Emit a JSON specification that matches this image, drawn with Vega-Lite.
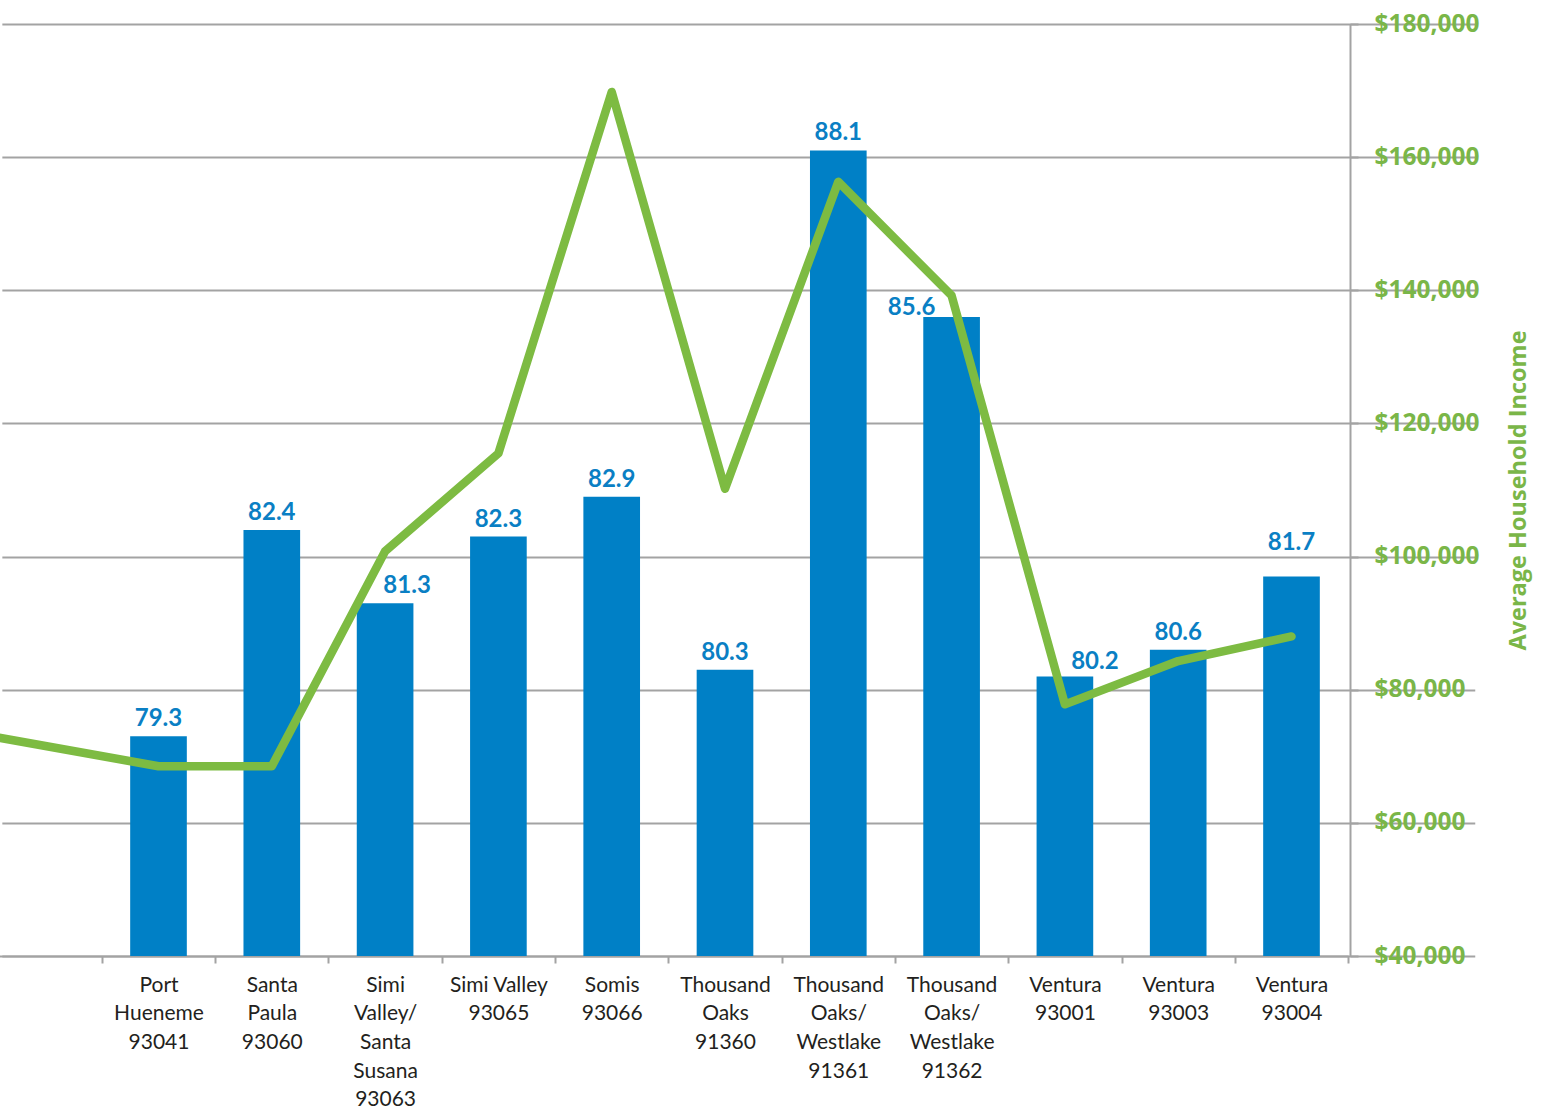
{
  "$schema": "https://vega.github.io/schema/vega-lite/v6.json",
  "width": 1350,
  "height": 932,
  "autosize": {"type": "none"},
  "padding": {"left": 0, "top": 24, "right": 200, "bottom": 153},
  "background": "white",
  "config": {"view": {"stroke": null}},
  "data": {
    "values": [
      {"area": "(cut off)", "life": null, "income": 74600},
      {"area": "Port\nHueneme\n93041", "life": 79.3, "income": 68500},
      {"area": "Santa\nPaula\n93060", "life": 82.4, "income": 68500},
      {"area": "Simi\nValley/\nSanta\nSusana\n93063", "life": 81.3, "income": 100800},
      {"area": "Simi Valley\n93065", "life": 82.3, "income": 115500},
      {"area": "Somis\n93066", "life": 82.9, "income": 169800},
      {"area": "Thousand\nOaks\n91360", "life": 80.3, "income": 110200},
      {"area": "Thousand\nOaks/\nWestlake\n91361", "life": 88.1, "income": 156300},
      {"area": "Thousand\nOaks/\nWestlake\n91362", "life": 85.6, "income": 139200},
      {"area": "Ventura\n93001", "life": 80.2, "income": 77800},
      {"area": "Ventura\n93003", "life": 80.6, "income": 84300},
      {"area": "Ventura\n93004", "life": 81.7, "income": 88000}
    ]
  },
  "encoding": {
    "x": {
      "field": "area",
      "type": "nominal",
      "sort": null,
      "scale": {
        "domain": ["(cut off)", "(gap)", "Port\nHueneme\n93041", "Santa\nPaula\n93060", "Simi\nValley/\nSanta\nSusana\n93063", "Simi Valley\n93065", "Somis\n93066", "Thousand\nOaks\n91360", "Thousand\nOaks/\nWestlake\n91361", "Thousand\nOaks/\nWestlake\n91362", "Ventura\n93001", "Ventura\n93003", "Ventura\n93004"],
        "range": [-124.75, 1348.15],
        "paddingInner": 0,
        "paddingOuter": 0
      },
      "axis": {
        "title": null,
        "values": ["Port\nHueneme\n93041", "Santa\nPaula\n93060", "Simi\nValley/\nSanta\nSusana\n93063", "Simi Valley\n93065", "Somis\n93066", "Thousand\nOaks\n91360", "Thousand\nOaks/\nWestlake\n91361", "Thousand\nOaks/\nWestlake\n91362", "Ventura\n93001", "Ventura\n93003", "Ventura\n93004"],
        "labelExpr": "split(datum.label, '\\n')",
        "tickBand": "extent",
        "labelAngle": 0,
        "labelFont": "Lato",
        "labelFontSize": 21,
        "labelColor": "#231f20",
        "labelLineHeight": 28.7,
        "labelPadding": 11,
        "labelLimit": 300,
        "domainColor": "#a3a3a3",
        "domainWidth": 2,
        "tickColor": "#a3a3a3",
        "tickWidth": 2,
        "tickSize": 7,
        "grid": false
      }
    }
  },
  "layer": [
    {
      "transform": [{"filter": "datum.life != null"}],
      "mark": {"type": "bar", "color": "#0080c6", "width": {"band": 0.5}},
      "encoding": {
        "y": {
          "field": "life",
          "type": "quantitative",
          "scale": {"domain": [76, 90], "nice": false, "zero": false},
          "axis": null
        },
        "y2": {"datum": 76}
      }
    },
    {
      "mark": {"type": "line", "color": "#7dbb42", "strokeWidth": 8.5, "strokeJoin": "round", "strokeCap": "round"},
      "encoding": {
        "order": {"value": null},
        "y": {
          "field": "income",
          "type": "quantitative",
          "scale": {"domain": [40000, 180000], "nice": false, "zero": false},
          "axis": {
            "orient": "right",
            "values": [40000, 60000, 80000, 100000, 120000, 140000, 160000, 180000],
            "format": "$,.0f",
            "grid": true,
            "gridColor": "#a3a3a3",
            "gridWidth": 2,
            "domainColor": "#a3a3a3",
            "domainWidth": 2,
            "tickColor": "#a3a3a3",
            "tickWidth": 2,
            "tickSize": 8,
            "labelFont": "Open Sans",
            "labelFontWeight": "bold",
            "labelFontSize": 24.5,
            "labelColor": "#7ab648",
            "labelPadding": 16,
            "title": "Average Household Income",
            "titleFont": "Open Sans",
            "titleFontWeight": "bold",
            "titleFontSize": 23.5,
            "titleColor": "#7ab648",
            "titleAngle": -90,
            "titleX": 168,
            "titleY": 466,
            "titleAlign": "center",
            "titleBaseline": "middle"
          }
        }
      }
    },
    {
      "transform": [{"filter": "datum.life != null && datum.life != 81.3 && datum.life != 85.6 && datum.life != 80.2 && datum.life != 81.7"}],
      "mark": {"type": "text", "font": "Lato", "fontWeight": "bold", "fontSize": 24, "color": "#0a7fc4", "baseline": "bottom", "dy": -5},
      "encoding": {
        "y": {"field": "life", "type": "quantitative", "scale": {"domain": [76, 90], "nice": false, "zero": false}, "axis": null},
        "text": {"field": "life", "type": "quantitative", "format": ".1f"}
      }
    },
    {
      "transform": [{"filter": "datum.life == 81.3"}],
      "mark": {"type": "text", "font": "Lato", "fontWeight": "bold", "fontSize": 24, "color": "#0a7fc4", "baseline": "bottom", "dx": 22, "dy": -5},
      "encoding": {
        "y": {"field": "life", "type": "quantitative", "scale": {"domain": [76, 90], "nice": false, "zero": false}, "axis": null},
        "text": {"field": "life", "type": "quantitative", "format": ".1f"}
      }
    },
    {
      "transform": [{"filter": "datum.life == 85.6"}],
      "mark": {"type": "text", "font": "Lato", "fontWeight": "bold", "fontSize": 24, "color": "#0a7fc4", "baseline": "bottom", "dx": -40, "dy": 3},
      "encoding": {
        "y": {"field": "life", "type": "quantitative", "scale": {"domain": [76, 90], "nice": false, "zero": false}, "axis": null},
        "text": {"field": "life", "type": "quantitative", "format": ".1f"}
      }
    },
    {
      "transform": [{"filter": "datum.life == 80.2"}],
      "mark": {"type": "text", "font": "Lato", "fontWeight": "bold", "fontSize": 24, "color": "#0a7fc4", "baseline": "bottom", "dx": 30, "dy": -2},
      "encoding": {
        "y": {"field": "life", "type": "quantitative", "scale": {"domain": [76, 90], "nice": false, "zero": false}, "axis": null},
        "text": {"field": "life", "type": "quantitative", "format": ".1f"}
      }
    },
    {
      "transform": [{"filter": "datum.life == 81.7"}],
      "mark": {"type": "text", "font": "Lato", "fontWeight": "bold", "fontSize": 24, "color": "#0a7fc4", "baseline": "bottom", "dy": -22},
      "encoding": {
        "y": {"field": "life", "type": "quantitative", "scale": {"domain": [76, 90], "nice": false, "zero": false}, "axis": null},
        "text": {"field": "life", "type": "quantitative", "format": ".1f"}
      }
    }
  ],
  "resolve": {"scale": {"y": "independent"}}
}
